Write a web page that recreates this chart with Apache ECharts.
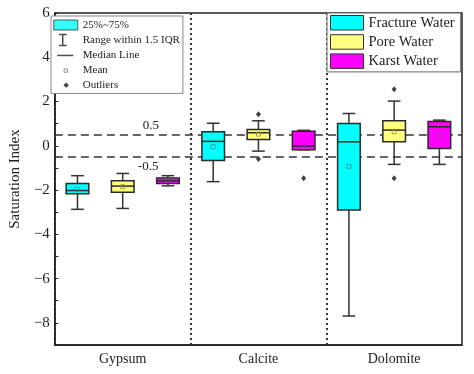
<!DOCTYPE html>
<html><head><meta charset="utf-8">
<script src="https://cdn.jsdelivr.net/npm/echarts@6/dist/echarts.min.js"></script>
<style>html,body{margin:0;padding:0;background:#fff}#c{width:474px;height:374px}</style>
</head><body><div id="c"></div>
<script>
const minerals = ['Gypsum', 'Calcite', 'Dolomite'];
const waterTypes = ['Fracture Water', 'Pore Water', 'Karst Water'];
// per mineral: [lower whisker, Q1, median, Q3, upper whisker]
const fractureBox = [[-2.87, -2.17, -2.02, -1.70, -1.35], [-1.62, -0.66, 0.20, 0.63, 1.02], [-7.69, -2.90, 0.18, 1.01, 1.46]];
const poreBox = [[-2.83, -2.10, -1.82, -1.58, -1.25], [-0.24, 0.29, 0.59, 0.74, 1.13], [-0.84, 0.18, 0.71, 1.13, 2.02]];
const karstBox = [[-1.81, -1.70, -1.58, -1.46, -1.35], [-0.18, -0.18, -0.01, 0.66, 0.70], [-0.84, -0.12, 0.86, 1.10, 1.16]];
const fractureMean = [-1.97, -0.04, -0.93];
const poreMean = [-1.85, 0.53, 0.63];
const karstMean = [-1.58, -0.06, 0.45];
const fractureOutliers = [[], [], []];
const poreOutliers = [[], [1.43, -0.60], [2.56, -1.47]];
const karstOutliers = [[], [-1.47], []];
const refLines = [0.5, -0.5];
const yTickLabels = [6, 4, 2, 0, -2, -4, -6, -8];

const boxSets = [fractureBox, poreBox, karstBox];
const meanSets = [fractureMean, poreMean, karstMean];
const outlierSets = [fractureOutliers, poreOutliers, karstOutliers];
const fills = ['#00FFFF', '#FFFF80', '#FF00FF'];
const meanColors = ['#3f8c8c', '#8c8c3c', '#8c3c8c'];
const FONT = 'Liberation Serif';

const slots = [];
minerals.forEach(m => waterTypes.forEach(w => slots.push(m + ' ' + w)));

function renderBox(params, api) {
  const x = api.value(0);
  const lo = api.coord([x, api.value(1)]);
  const q1 = api.coord([x, api.value(2)]);
  const md = api.coord([x, api.value(3)]);
  const q3 = api.coord([x, api.value(4)]);
  const hi = api.coord([x, api.value(5)]);
  const band = api.size([1, 0])[0];
  const hw = band * 0.25, cw = band * 0.14, cx = md[0];
  const ln = { stroke: '#333', lineWidth: 1.5 };
  return { type: 'group', children: [
    { type: 'line', shape: { x1: cx, y1: hi[1], x2: cx, y2: q3[1] }, style: ln },
    { type: 'line', shape: { x1: cx, y1: q1[1], x2: cx, y2: lo[1] }, style: ln },
    { type: 'line', shape: { x1: cx - cw, y1: hi[1], x2: cx + cw, y2: hi[1] }, style: ln },
    { type: 'line', shape: { x1: cx - cw, y1: lo[1], x2: cx + cw, y2: lo[1] }, style: ln },
    { type: 'rect', shape: { x: cx - hw, y: q3[1], width: 2 * hw, height: q1[1] - q3[1] },
      style: { fill: api.visual('color'), stroke: '#2a2a2a', lineWidth: 1.5 } },
    { type: 'line', shape: { x1: cx - hw, y1: md[1], x2: cx + hw, y2: md[1] }, style: { stroke: '#2a2a2a', lineWidth: 1.5 } }
  ]};
}

const series = [];
waterTypes.forEach((w, wi) => {
  series.push({
    name: w, type: 'custom', xAxisIndex: 1, z: 3,
    itemStyle: { color: fills[wi] },
    renderItem: renderBox,
    encode: { x: 0, y: [1, 2, 3, 4, 5] },
    data: boxSets[wi].map((b, mi) => [mi * 3 + wi].concat(b))
  });
});
const meanData = [];
const outlierData = [];
waterTypes.forEach((w, wi) => {
  minerals.forEach((m, mi) => {
    meanData.push({ value: [mi * 3 + wi, meanSets[wi][mi]], itemStyle: { borderColor: meanColors[wi] } });
    outlierSets[wi][mi].forEach(v => outlierData.push([mi * 3 + wi, v]));
  });
});
series.push({
  name: 'Mean', type: 'scatter', xAxisIndex: 1, z: 5, symbol: 'rect', symbolSize: 4,
  itemStyle: { color: 'rgba(0,0,0,0)', borderColor: '#777', borderWidth: 1 },
  data: meanData,
  markLine: {
    z: 1, silent: true, symbol: 'none',
    lineStyle: { color: '#333', width: 1.5, type: [8, 5] },
    label: { show: true, color: '#222', fontFamily: FONT, fontSize: 13, formatter: '{c}', distance: 3 },
    data: refLines.map((v, i) => ({
      yAxis: v,
      label: { position: i === 0 ? 'insideStartTop' : 'insideStartBottom', padding: [0, 0, 0, i === 0 ? 85 : 80] }
    }))
  }
});
series.push({
  name: 'Outliers', type: 'scatter', xAxisIndex: 1, z: 5, symbol: 'diamond', symbolSize: [5, 6],
  itemStyle: { color: '#111' }, data: outlierData
});
['25%~75%', 'Range within 1.5 IQR', 'Median Line'].forEach(n => series.push({ name: n, type: 'scatter', data: [] }));

const clear = 'rgba(0,0,0,0)';
const option = {
  animation: false,
  textStyle: { fontFamily: FONT },
  grid: { left: 48, right: 12, top: 13, bottom: 29, show: true, borderColor: '#222', borderWidth: 1.5, backgroundColor: clear },
  xAxis: [
    { type: 'category', data: minerals, position: 'bottom',
      axisLine: { show: true, onZero: false, lineStyle: { color: '#222', width: 1.5 } },
      axisTick: { show: false },
      axisLabel: { color: '#222', fontSize: 14, margin: 7, fontFamily: FONT },
      splitLine: { show: true, lineStyle: { color: '#333', width: 2, type: [2, 3] } } },
    { type: 'category', data: slots, show: false, axisLine: { onZero: false } }
  ],
  yAxis: {
    type: 'value', min: -9, max: 6, interval: 1,
    name: 'Saturation Index', nameLocation: 'middle', nameGap: 26,
    nameTextStyle: { color: '#222', fontSize: 15, fontFamily: FONT },
    axisLine: { show: true, lineStyle: { color: '#222', width: 1.5 } },
    axisTick: { show: true, inside: true, length: 3.5, lineStyle: { color: '#222', width: 1 } },
    axisLabel: { color: '#222', fontSize: 15, margin: 5, fontFamily: FONT,
      formatter: v => yTickLabels.includes(v) ? String(v).replace('-', '\u2212') : '' },
    splitLine: { show: false }
  },
  legend: [
    { orient: 'vertical', left: 51, top: 16, padding: [2.5, 3, 2, 2], itemWidth: 24, itemHeight: 12, itemGap: 1.85,
      backgroundColor: '#fff', borderColor: '#888', borderWidth: 1, selectedMode: false,
      textStyle: { fontFamily: FONT, fontSize: 11, color: '#222' },
      data: [
        { name: '25%~75%', icon: 'path://M0,0M24,12M0,1H24V11H0Z', itemStyle: { color: '#00FFFF', borderColor: '#333', borderWidth: 1 } },
        { name: 'Range within 1.5 IQR', icon: 'path://M0,0M24,12M5,0.5H13M9,0.5V11.5M5,11.5H13', itemStyle: { color: clear, borderColor: '#222', borderWidth: 1.5 } },
        { name: 'Median Line', icon: 'path://M0,0M24,12M3.5,6H19.5', itemStyle: { color: clear, borderColor: '#222', borderWidth: 1.5 } },
        { name: 'Mean', icon: 'path://M0,0M24,12M10.3,4.3H13.7V7.7H10.3Z', itemStyle: { color: clear, borderColor: '#777', borderWidth: 1 } },
        { name: 'Outliers', icon: 'path://M0,0M24,12M12.4,3.6L14.8,6L12.4,8.4L10,6Z', itemStyle: { color: '#111', borderColor: '#111', borderWidth: 0.5 } }
      ] },
    { orient: 'vertical', left: 327, top: 13, padding: [2, 6, 3, 3], itemWidth: 33, itemHeight: 14.5, itemGap: 3.7,
      backgroundColor: '#fff', borderColor: '#666', borderWidth: 1, selectedMode: false,
      textStyle: { fontFamily: FONT, fontSize: 14.5, color: '#222' },
      data: waterTypes.map((w, wi) => ({ name: w, icon: 'rect', itemStyle: { color: fills[wi], borderColor: '#333', borderWidth: 1 } })) }
  ],
  series: series
};
const chart = echarts.init(document.getElementById('c'), null, { renderer: 'canvas' });
chart.setOption(option);
</script></body></html>
